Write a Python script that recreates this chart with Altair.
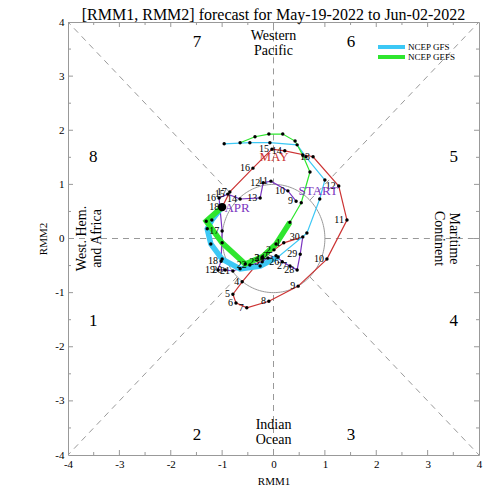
import altair as alt
import pandas as pd
import numpy as np

SERIF = "Liberation Serif"

# ---- observed RMM (April 9-30, purple) ----
apr_day = list(range(9, 31))
apr_x = [0.44, 0.28, -0.05, -0.20, -0.26, -0.65, -0.89, -1.06, -1.00, -1.02, -1.08,
         -0.94, -0.79, -0.46, -0.22, -0.11, 0.05, 0.17, 0.32, 0.46, 0.52, 0.57]
apr_y = [0.69, 0.88, 1.06, 1.03, 0.75, 0.73, 0.82, 0.75, 0.14, -0.42, -0.58,
         -0.58, -0.60, -0.49, -0.43, -0.36, -0.32, -0.43, -0.51, -0.58, -0.29, 0.03]
# ---- observed RMM (May 1-18, red) ----
may_day = list(range(1, 19))
may_x = [0.20, 0.01, -0.22, -0.61, -0.79, -0.73, -0.52, -0.09, 0.48, 1.04,
         1.43, 1.27, 0.77, 0.22, -0.03, -0.40, -0.85, -1.00]
may_y = [-0.08, -0.21, -0.36, -0.80, -1.03, -1.19, -1.28, -1.16, -0.88, -0.38,
         0.34, 0.97, 1.51, 1.62, 1.65, 1.30, 0.86, 0.58]
# ---- forecasts ----
gfs_x = [-1.00, -1.20, -1.29, -1.22, -1.00, -0.65, -0.26, 0.09,
         0.65, 0.90, 1.00, 0.63, 0.46, -0.07, -0.46, -0.96]
gfs_y = [0.58, 0.34, 0.18, -0.10, -0.38, -0.56, -0.51, -0.34,
         0.10, 0.73, 1.08, 1.51, 1.73, 1.77, 1.77, 1.75]
gefs_x = [-1.00, -1.31, -1.00, -0.55, -0.22, 0.05, 0.32,
          0.54, 0.71, 0.57, 0.42, 0.18, -0.09, -0.36, -0.65]
gefs_y = [0.58, 0.32, -0.08, -0.47, -0.34, -0.10, 0.30,
          0.66, 1.23, 1.54, 1.80, 1.93, 1.93, 1.88, 1.77]
gfs_thick_n = 8
gefs_thick_n = 7

# ---- annotations ----
month_text = ["APR", "MAY", "START"]
month_x = [-0.71, 0.01, 0.87]
month_y = [0.56, 1.51, 0.88]
month_col = ["#7B35C0", "#CC3333", "#7B35C0"]

phase_lbl = ["1", "2", "3", "4", "5", "6", "7", "8"]
phase_x = [-3.51, -1.49, 1.51, 3.51, 3.51, 1.51, -1.49, -3.51]
phase_y = [-1.52, -3.63, -3.63, -1.52, 1.51, 3.63, 3.63, 1.51]

region_text = ["Western\nPacific", "Indian\nOcean", "West. Hem.\nand Africa", "Maritime\nContinent"]
region_x = [0.0, 0.0, -3.73, 3.51]
region_y = [3.74, -3.45, 0.0, 0.0]
region_angle = [0, 0, 270, 90]

series_names = ["NCEP GFS", "NCEP GEFS"]
series_cols = ["#3CC8F5", "#2EE62E"]

W, H = 411, 433
xs = alt.Scale(domain=[-4, 4], nice=False, zero=False)
ys = alt.Scale(domain=[-4, 4], nice=False, zero=False)
xaxis = alt.Axis(values=list(range(-4, 5)), title="RMM1", domain=False, ticks=False, grid=False,
                 labelFont=SERIF, labelFontSize=11, labelColor="black", labelPadding=3,
                 labelFlush=False, labelExpr="'' + datum.value",
                 titleFont=SERIF, titleFontSize=11, titleFontWeight="normal", titleColor="black",
                 titlePadding=6)
yaxis = alt.Axis(values=list(range(-4, 5)), title="RMM2", domain=False, ticks=False, grid=False,
                 labelFont=SERIF, labelFontSize=11, labelColor="black", labelPadding=4,
                 labelExpr="'' + datum.value",
                 titleFont=SERIF, titleFontSize=11, titleFontWeight="normal", titleColor="black",
                 titlePadding=6)
X = alt.X("x:Q", scale=xs, axis=xaxis)
Y = alt.Y("y:Q", scale=ys, axis=yaxis)

# dashed phase boundaries (from unit circle to frame)
c = np.sqrt(0.5)
dash_df = pd.DataFrame({
    "x": [-4, 1, 0, 0, c, -c, -c, c],
    "y": [0, 0, 1, -4, c, c, -c, -c],
    "x2": [-1, 4, 0, 0, 4, -4, -4, 4],
    "y2": [0, 0, 4, -1, 4, 4, -4, -4],
})
dashes = alt.Chart(dash_df).mark_rule(color="#999999", strokeWidth=1, strokeDash=[6, 5]).encode(
    x=X, y=Y, x2="x2:Q", y2="y2:Q")

th = np.linspace(0, 2 * np.pi, 181)
circ_df = pd.DataFrame({"x": np.cos(th), "y": np.sin(th), "i": np.arange(181)})
circle = alt.Chart(circ_df).mark_line(color="#999999", strokeWidth=1).encode(
    x=X, y=Y, order="i:Q")

apr_df = pd.DataFrame({"x": apr_x, "y": apr_y, "day": apr_day, "i": range(len(apr_x))})
may_line_df = pd.DataFrame({"x": [apr_x[-1]] + may_x, "y": [apr_y[-1]] + may_y,
                            "i": range(len(may_x) + 1)})
may_df = pd.DataFrame({"x": may_x, "y": may_y, "day": may_day})

apr_line = alt.Chart(apr_df).mark_line(color="#7B35C0", strokeWidth=1.2).encode(x=X, y=Y, order="i:Q")
may_line = alt.Chart(may_line_df).mark_line(color="#CC3333", strokeWidth=1.2).encode(x=X, y=Y, order="i:Q")

fc_rows = []
for n, xx, yy, tn in [("NCEP GFS", gfs_x, gfs_y, gfs_thick_n), ("NCEP GEFS", gefs_x, gefs_y, gefs_thick_n)]:
    for i, (a, b) in enumerate(zip(xx, yy)):
        fc_rows.append({"x": a, "y": b, "i": i, "model": n, "thick": i < tn})
fc_df = pd.DataFrame(fc_rows)

color = alt.Color("model:N", scale=alt.Scale(domain=series_names, range=series_cols), legend=None)
fc_thin = alt.Chart(fc_df).mark_line(strokeWidth=1.2).encode(
    x=X, y=Y, order="i:Q", color=color, detail="model:N")
fc_thick = alt.Chart(fc_df[fc_df["thick"]]).mark_line(strokeWidth=5.5).encode(
    x=X, y=Y, order="i:Q", color=color, detail="model:N")

# hand-drawn legend (top right, inside the frame)
legend_layers = []
for k, (name, col) in enumerate(zip(series_names, series_cols)):
    ly = 25 + 10 * k
    one = pd.DataFrame({"t": [name]})
    legend_layers.append(alt.Chart(one).mark_rule(color=col, strokeWidth=4).encode(
        x=alt.value(310), x2=alt.value(337), y=alt.value(ly)))
    legend_layers.append(alt.Chart(one).mark_text(font=SERIF, fontSize=9, color="black",
                                                  align="left", baseline="middle").encode(
        x=alt.value(340), y=alt.value(ly), text="t:N"))

pts_df = pd.concat([apr_df[["x", "y"]], may_df[["x", "y"]], fc_df[["x", "y"]]], ignore_index=True)
points = alt.Chart(pts_df).mark_circle(color="black", size=12, opacity=1).encode(x=X, y=Y)
big = alt.Chart(may_df.tail(1)).mark_circle(color="black", size=70, opacity=1).encode(x=X, y=Y)

lab_df = pd.concat([apr_df[["x", "y", "day"]], may_df[["x", "y", "day"]]], ignore_index=True)
lab_df["t"] = lab_df["day"].astype(str)
day_labels = alt.Chart(lab_df).mark_text(font=SERIF, fontSize=10, color="black", align="right",
                                         baseline="middle", dx=-3).encode(x=X, y=Y, text="t:N")

mon_df = pd.DataFrame({"x": month_x, "y": month_y, "t": month_text, "c": month_col})
mon_labels = alt.Chart(mon_df).mark_text(font=SERIF, fontSize=13, align="center",
                                         baseline="middle").encode(
    x=X, y=Y, text="t:N", color=alt.Color("c:N", scale=None))

ph_df = pd.DataFrame({"x": phase_x, "y": phase_y, "t": phase_lbl})
ph_labels = alt.Chart(ph_df).mark_text(font=SERIF, fontSize=17, color="black", align="center",
                                       baseline="middle").encode(x=X, y=Y, text="t:N")

rg_df = pd.DataFrame({"x": region_x, "y": region_y, "t": region_text, "a": region_angle})
rg_labels = alt.Chart(rg_df).mark_text(font=SERIF, fontSize=14, color="black", align="center",
                                       baseline="middle", lineBreak="\n", lineHeight=15).encode(
    x=X, y=Y, text="t:N", angle=alt.Angle("a:Q", scale=None))

# inward ticks on all four sides
major = pd.DataFrame({"x": list(range(-3, 4)), "y": list(range(-3, 4))})
minor = pd.DataFrame({"x": [v + 0.5 for v in range(-4, 4)], "y": [v + 0.5 for v in range(-4, 4)]})
tick_layers = []
for df, L in [(major, 5), (minor, 3)]:
    base = alt.Chart(df).mark_rule(color="#999999", strokeWidth=1)
    tick_layers.append(base.encode(x=X, y=alt.value(H), y2=alt.value(H - L)))
    tick_layers.append(base.encode(x=X, y=alt.value(0), y2=alt.value(L)))
    tick_layers.append(base.encode(y=Y, x=alt.value(0), x2=alt.value(L)))
    tick_layers.append(base.encode(y=Y, x=alt.value(W), x2=alt.value(W - L)))

chart = alt.layer(
    dashes, circle, *tick_layers, apr_line, may_line, fc_thin, fc_thick, points, big,
    day_labels, mon_labels, ph_labels, rg_labels, *legend_layers
).properties(
    width=W, height=H,
    title=alt.TitleParams("[RMM1, RMM2] forecast for May-19-2022 to Jun-02-2022", font=SERIF,
                          fontSize=16, fontWeight="normal", anchor="middle", offset=0, dy=7,
                          color="black"),
    autosize=alt.AutoSizeParams(type="none"),
    padding={"left": 60, "top": 14, "right": 13, "bottom": 37},
).configure_view(stroke="#999999", strokeWidth=1)

chart.save("out.html", embed_options={"renderer": "svg", "actions": False})
